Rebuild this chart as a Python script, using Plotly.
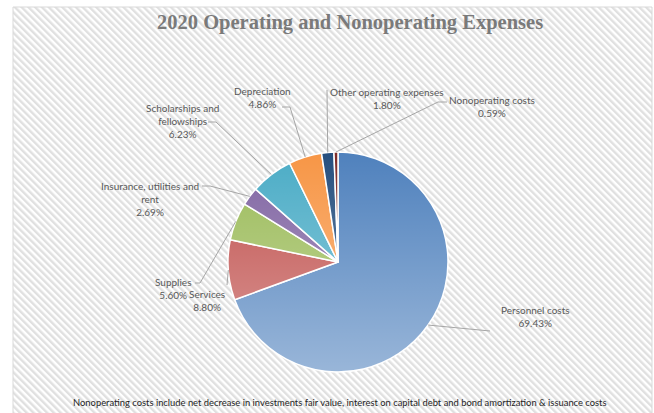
import base64
import math

import plotly.graph_objects as go

# ---- data ----
categories = ["Personnel costs", "Services", "Supplies", "Insurance, utilities and rent",
              "Scholarships and fellowships", "Depreciation", "Other operating expenses",
              "Nonoperating costs"]
shares = [69.43, 8.80, 5.60, 2.69, 6.23, 4.86, 1.80, 0.59]
label_text = ["Personnel costs", "Services", "Supplies", "Insurance, utilities and<br>rent",
              "Scholarships and<br>fellowships", "Depreciation", "Other operating expenses",
              "Nonoperating costs"]
colors = ["#4F81BD", "#C0504D", "#9BBB59", "#8064A2", "#4BACC6", "#F79646", "#254E7E", "#7E2B28"]

TITLE = "2020 Operating and Nonoperating Expenses"
NOTE = ("Nonoperating costs include net decrease in investments fair value, interest on "
        "capital debt and bond amortization & issuance costs")

W, H = 654, 413
CX, CY, R = 338, 262, 110  # pie centre / radius in pixels
BOX = (13, 7, 652, 416)    # chart area frame: left, top, right, bottom


def px(x):
    return x / W


def py(y):
    return 1 - y / H


# label centre (px) and leader start point for each slice
label_pos = [(535, 316), (207, 300), (173, 288), (150, 199), (182, 121), (262, 97), (387, 98), (492, 106)]
leader_start = [[(490, 331)], [(227, 285)], [(195, 283), (200, 283)], [(202, 186), (210, 186)],
                [(208, 122), (216, 122)], [(282, 107), (290, 107)], [(327, 90)], [(447, 102), (438, 102)]]

fig = go.Figure(go.Pie(
    labels=categories,
    values=shares,
    sort=False,
    direction="clockwise",
    rotation=0,
    textinfo="none",
    hoverinfo="label+percent",
    marker=dict(colors=colors, line=dict(color="white", width=1.5)),
    domain=dict(x=[px(CX - R), px(CX + R)], y=[py(CY + R), py(CY - R)]),
    showlegend=False,
))

bw, bh = BOX[2] - BOX[0], BOX[3] - BOX[1]
# striped chart-area background
stripe_svg = f"""<svg xmlns='http://www.w3.org/2000/svg' width='{bw}' height='{bh}'>
<defs><pattern id='p' width='4.8' height='4.8' patternUnits='userSpaceOnUse' patternTransform='rotate(-45)'>
<rect x='0' y='0' width='2.4' height='4.8' fill='#E0E0E0'/></pattern></defs>
<rect width='100%' height='100%' fill='white'/><rect width='100%' height='100%' fill='url(#p)'/></svg>"""
# soft vertical gradient over the pie, like the Excel fill
grad_svg = """<svg xmlns='http://www.w3.org/2000/svg' width='220' height='220'>
<defs><linearGradient id='g' x1='0' y1='0' x2='0' y2='1'>
<stop offset='0' stop-color='white' stop-opacity='0'/>
<stop offset='1' stop-color='white' stop-opacity='0.42'/></linearGradient></defs>
<circle cx='110' cy='110' r='110' fill='url(#g)'/></svg>"""


def data_uri(svg):
    return "data:image/svg+xml;base64," + base64.b64encode(svg.encode()).decode()


images = [
    dict(source=data_uri(stripe_svg), xref="paper", yref="paper", x=px(BOX[0]), y=py(BOX[1]),
         sizex=bw / W, sizey=bh / H, sizing="stretch", layer="below",
         xanchor="left", yanchor="top"),
    dict(source=data_uri(grad_svg), xref="paper", yref="paper", x=px(CX - R), y=py(CY - R),
         sizex=2 * R / W, sizey=2 * R / H, sizing="stretch", layer="above",
         xanchor="left", yanchor="top"),
]

shapes = [dict(type="rect", xref="paper", yref="paper", x0=px(BOX[0]), x1=px(BOX[2]),
               y0=py(BOX[3]), y1=py(BOX[1]), line=dict(color="#D9D9D9", width=1), layer="below")]

annotations = []
total = sum(shares)
cum = 0
for i, v in enumerate(shares):
    mid = (cum + v / 2) / total
    cum += v
    theta = 2 * math.pi * mid
    ex, ey = CX + R * math.sin(theta), CY - R * math.cos(theta)
    pts = leader_start[i] + [(ex, ey)]
    path = "M " + " L ".join(f"{px(x)},{py(y)}" for x, y in pts)
    shapes.append(dict(type="path", xref="paper", yref="paper", path=path,
                       line=dict(color="#A6A6A6", width=1)))
    lx, ly = label_pos[i]
    annotations.append(dict(x=px(lx), y=py(ly), xref="paper", yref="paper", showarrow=False,
                            xanchor="center", yanchor="middle",
                            text=f"{label_text[i]}<br>{v:.2f}%", align="center",
                            font=dict(family="Lato", size=10, color="#595959")))

annotations.append(dict(x=px(350), y=py(22), xref="paper", yref="paper", showarrow=False,
                        xanchor="center", yanchor="middle", text=f"<b>{TITLE}</b>",
                        font=dict(family="Liberation Serif", size=20.5, color="#7A7A7A")))
annotations.append(dict(x=px(340), y=py(402), xref="paper", yref="paper", showarrow=False,
                        xanchor="center", yanchor="middle", text=NOTE,
                        font=dict(family="Lato", size=9.4, color="#1F1F1F")))

fig.update_layout(
    width=W, height=H,
    margin=dict(l=0, r=0, t=0, b=0),
    paper_bgcolor="white",
    images=images,
    shapes=shapes,
    annotations=annotations,
)

fig.write_html("out.html", config={"displayModeBar": False},
               post_script="document.body.style.margin='0';document.body.style.overflow='hidden';")
